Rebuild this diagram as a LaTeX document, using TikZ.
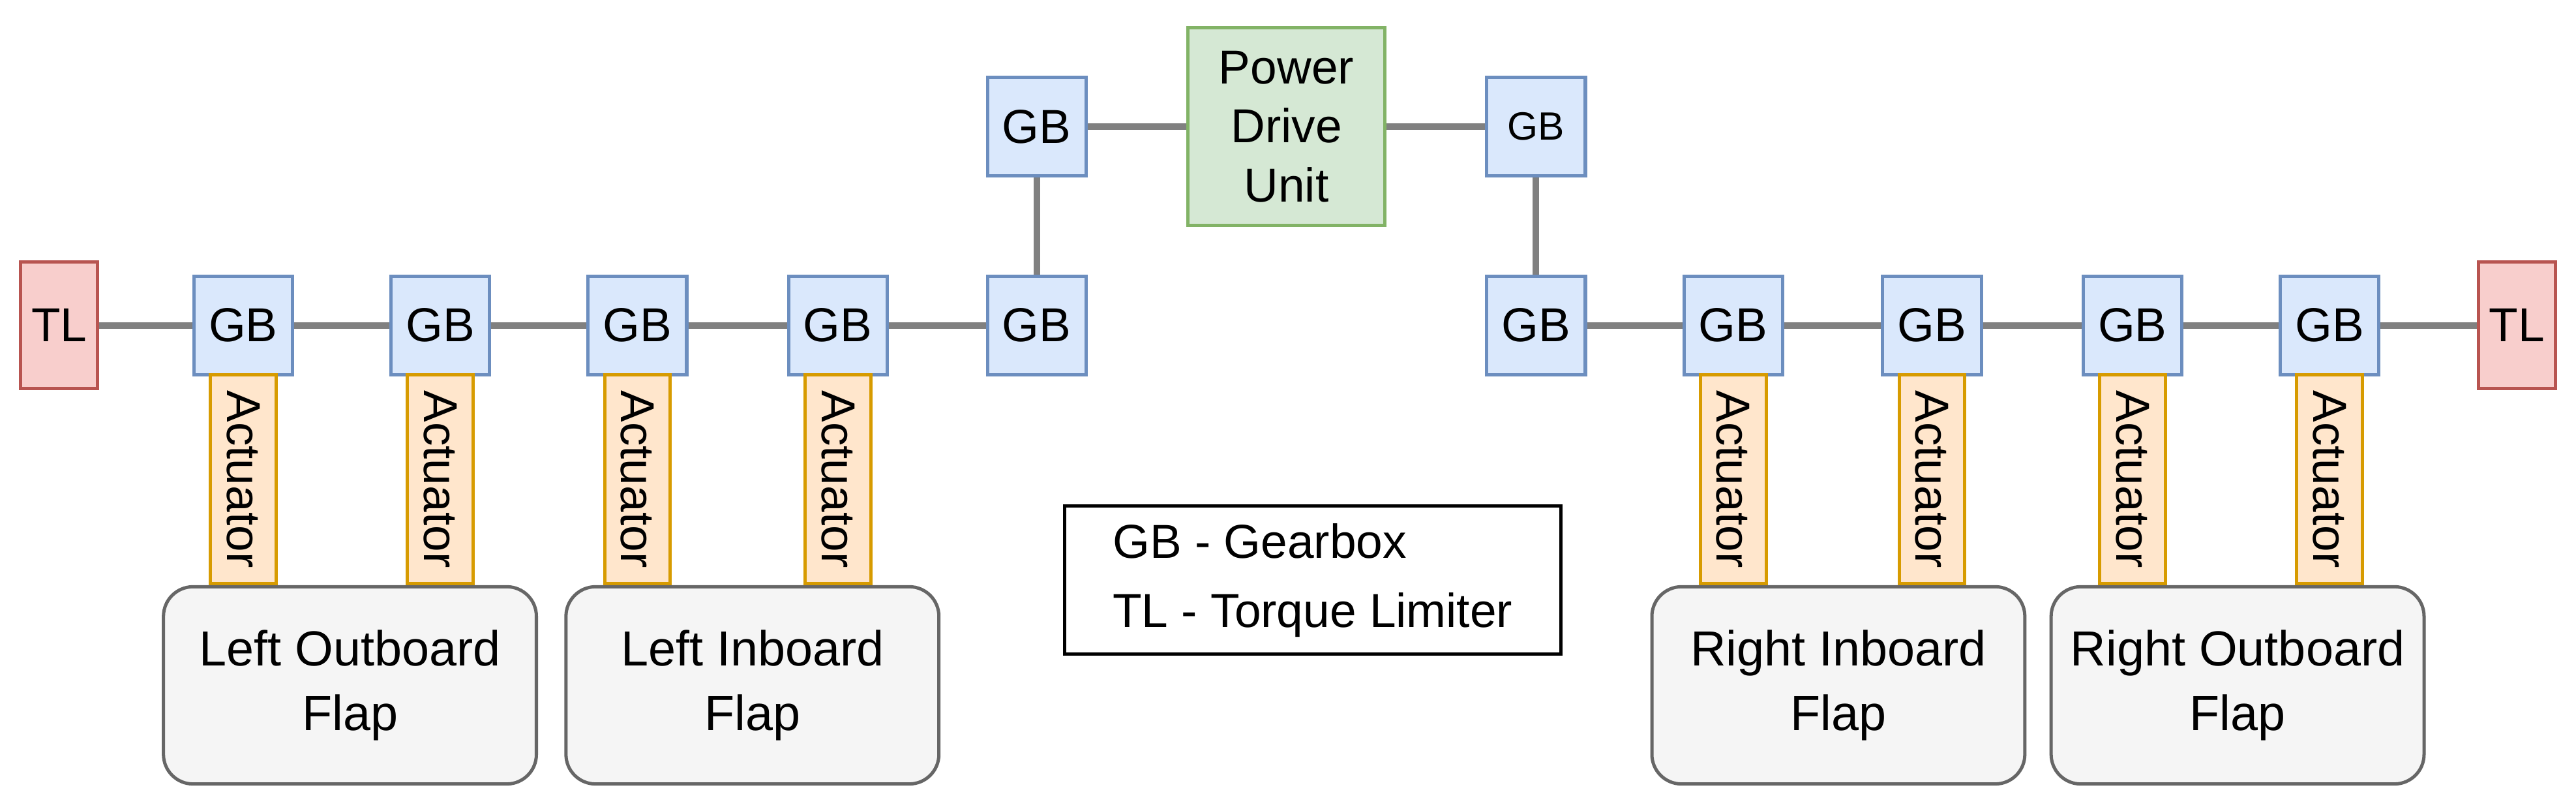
\documentclass[tikz,border=0pt]{standalone}
\usepackage{fontspec}
\setmainfont{Liberation Sans}
\begin{document}
\begin{tikzpicture}[x=1pt,y=-1pt]
\definecolor{gbb}{HTML}{6C8EBF}\definecolor{gbf}{HTML}{DAE8FC}
\definecolor{HB}{HTML}{B85450}\definecolor{HF}{HTML}{F8CECC}
\definecolor{AB}{HTML}{D79B00}\definecolor{AF}{HTML}{FFE6CC}
\definecolor{FB}{HTML}{666666}\definecolor{FF}{HTML}{F5F5F5}
\definecolor{PB}{HTML}{82B366}\definecolor{PF}{HTML}{D5E8D4}
\tikzset{
 gb/.style={draw=gbb,fill=gbf,line width=2pt,minimum width=60pt,minimum height=60pt,inner sep=0pt,font=\fontsize{29}{34}\selectfont},
 tl/.style={draw=HB,fill=HF,line width=2pt,minimum width=47pt,minimum height=77pt,inner sep=0pt,font=\fontsize{29}{34}\selectfont},
 act/.style={draw=AB,fill=AF,line width=2pt,minimum width=127pt,minimum height=40pt,inner sep=0pt,rotate=-90,font=\fontsize{29}{34}\selectfont},
 flap/.style={draw=FB,fill=FF,line width=2pt,rounded corners=18pt,minimum width=227pt,minimum height=120pt,align=center,font=\fontsize{30}{39}\selectfont},
 ln/.style={draw=gray,line width=4pt}}
\useasboundingbox (0,0) rectangle (1568,492);
\node[tl] (tl1) at (36,198) {TL};
\node[tl] (tl2) at (1532,198) {TL};
\foreach \n/\x in {a/148,b/268,c/388,d/510,e/631,f/935,g/1055,h/1176,i/1298,j/1418}
  \node[gb] (\n) at (\x,198) {GB};
\node[gb] (tL) at (631,77) {GB};
\node[gb,font=\fontsize{24}{28}\selectfont] (tR) at (935,77) {GB};
\node[draw=PB,fill=PF,line width=2pt,minimum width=120pt,minimum height=120pt,inner sep=0pt,align=center,font=\fontsize{29}{36}\selectfont] (pdu) at (783,77) {Power\\Drive\\Unit};
\draw[ln] (tl1)--(a) (a)--(b) (b)--(c) (c)--(d) (d)--(e) (e)--(tL) (tL)--(pdu) (pdu)--(tR) (tR)--(f) (f)--(g) (g)--(h) (h)--(i) (i)--(j) (j)--(tl2);
\foreach \n/\x in {1/148,2/268,3/388,4/510,5/1055,6/1176,7/1298,8/1418}
  \node[act] (ac\n) at (\x,291.5) {Actuator};
\node[flap] (f1) at (213,417) {Left Outboard\\Flap};
\node[flap] (f2) at (458,417) {Left Inboard\\Flap};
\node[flap] (f3) at (1119,417) {Right Inboard\\Flap};
\node[flap] (f4) at (1362,417) {Right Outboard\\Flap};
\node[draw,line width=2pt,minimum width=302pt,minimum height=90pt,align=left,font=\fontsize{29}{42}\selectfont] (leg) at (799,353) {GB - Gearbox\\TL - Torque Limiter};
\end{tikzpicture}
\end{document}
